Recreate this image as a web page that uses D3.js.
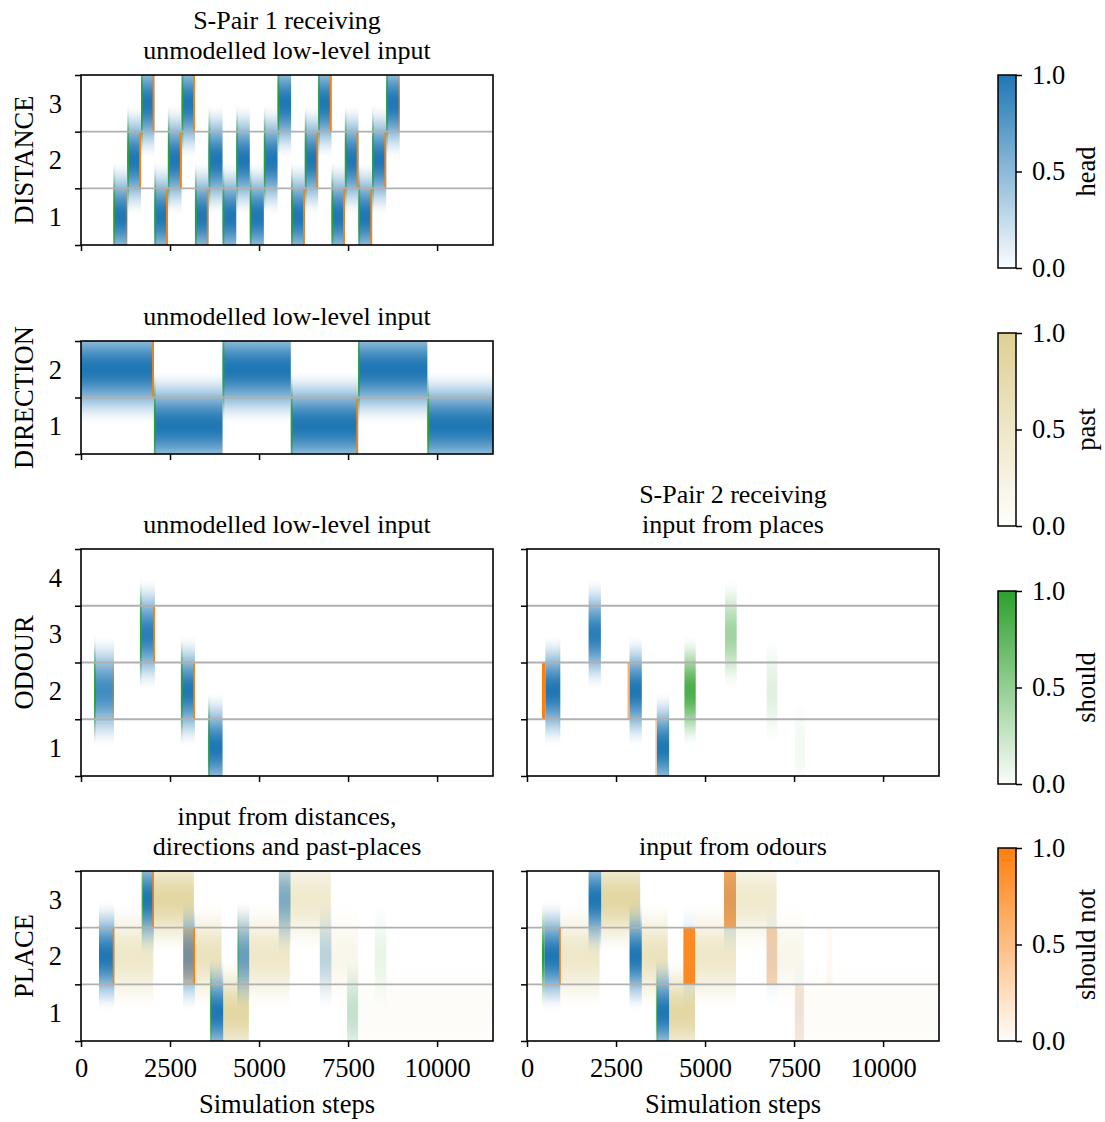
<!DOCTYPE html>
<html><head><meta charset="utf-8">
<script src="https://cdn.jsdelivr.net/npm/d3@7"></script>
<style>
html,body{margin:0;padding:0;background:#fff;}
text{font-family:"Liberation Serif","DejaVu Serif",serif;fill:#000;}
</style></head>
<body>
<script>
// ---------------- DATA ----------------
const xMax = 11570;
const xTicks = [0, 2500, 5000, 7500, 10000];
const cbTicks = [0, 0.5, 1];
const layerNames = ["head", "past", "should", "should not"];

// DISTANCE (S-Pair 1): bar edges (steps), category of each bar, should / should-not strength
const distanceEdges = [910,1300,1685,2060,2440,2825,3200,3580,3975,4360,4740,5135,5520,5900,6285,6660,7035,7410,7790,8175,8570,8950];
const distanceCats = [1,2,3,1,2,3,1,2,1,2,1,2,3,1,2,3,1,2,1,2,3];
const distanceShould = [1,1,1,1,1,1,1,1,1,1,1,1,1,1,1,1,1,1,1,1,1];
const distanceShouldNot = [0.3,1,1,1,1,1,0.7,0,0,0,0,0,0,1,1,1,1,1,1,1,0.3];

// DIRECTION
const directionEdges = [0,2048,3975,5892,7782,9727,11570];
const directionCats = [2,1,2,1,2,1];
const directionShould = [0,1,1,1,1,1];
const directionShouldNot = [1,0,0,1,0,0];

// ODOUR, left (unmodelled input): [start, end, category, value]
const odourLeftHead = [[365,926,2,0.85],[1655,2076,3,0.95],[2806,3199,2,1],[3573,3975,1,1]];
const odourLeftShould = [[365,415,2,1],[1655,1705,3,1],[2806,2856,2,1],[3573,3623,1,1]];
const odourLeftShouldNot = [[880,926,2,0.25],[2030,2076,3,1],[3153,3199,2,1]];

// ODOUR, right (S-Pair 2, input from places)
const odourRightHead = [[514,935,2,1],[1729,2075,3,0.95],[2879,3224,2,1],[3645,3991,1,1]];
const odourRightShould = [[4421,4738,2,0.85],[5561,5888,3,0.45],[6729,7028,2,0.15],[7523,7804,1,0.06],[890,935,2,0.2],[3950,3991,1,0.3]];
const odourRightShouldNot = [[421,514,2,1],[2822,2879,2,0.6],[3598,3645,1,0.35]];

// PLACE, left (input from distances, directions and past-places)
const placeLeftPast = [[935,2030,2,0.5],[2048,3170,3,0.85],[3199,3947,2,0.6],[3994,4714,1,0.85],[4396,5864,2,0.5],[5556,7015,3,0.45],[6706,7782,2,0.18],[7782,11570,1,0.07]];
const placeLeftHead = [[505,935,2,1],[1730,2048,3,1],[2871,3199,2,0.8],[3638,3994,1,1],[4396,4723,2,0.65],[5556,5883,3,0.55],[6706,7033,2,0.28],[7473,7782,1,0.1]];
const placeLeftShould = [[1700,1745,3,0.8],[3620,3665,1,0.8],[4396,4440,2,0.4],[7473,7782,1,0.2],[8250,8577,2,0.1]];
const placeLeftShouldNot = [[890,935,2,1],[2003,2048,3,1],[2871,3199,2,0.25],[3160,3205,2,1]];

// PLACE, right (input from odours)
const placeRightPast = [[935,2037,2,0.5],[2084,3178,3,0.85],[3224,3953,2,0.6],[3991,4720,1,0.85],[4720,5869,2,0.5],[5533,7010,3,0.45],[7028,7776,2,0.18],[7776,11570,1,0.07]];
const placeRightHead = [[486,935,2,1],[1729,2084,3,1],[2879,3224,2,1],[3645,3991,1,1],[4393,4720,2,0.2],[5533,5869,3,0.3],[6729,7028,2,0.12],[7523,7776,1,0.08]];
const placeRightShould = [[421,486,2,1],[3620,3665,1,0.7]];
const placeRightShouldNot = [[900,950,2,0.85],[4393,4720,2,0.9],[5533,5869,3,0.6],[6729,7028,2,0.3],[7523,7776,1,0.15],[8420,8577,2,0.05]];

// ---------------- BUILD TABLES ----------------
const STRIP = 50;
function barsFromEdges(edges, cats, v){ return cats.map((c,i)=>[edges[i],edges[i+1],c,v]); }
function startStrips(edges, cats, vals){ return cats.map((c,i)=>[edges[i],edges[i]+STRIP,c,vals[i]]).filter(d=>d[3]>0); }
function endStrips(edges, cats, vals){ return cats.map((c,i)=>[edges[i+1]-STRIP,edges[i+1],c,vals[i]]).filter(d=>d[3]>0); }

const colors = {head:"#1f77b4", past:"#ded093", should:"#2ca02c", "should not":"#ff7f0e"};

const W = 1105, H = 1122;
const svg = d3.select("body").append("svg").attr("width",W).attr("height",H).style("display","block");
svg.append("rect").attr("width",W).attr("height",H).attr("fill","#fff");
const defs = svg.append("defs");

function profile(d){ d=Math.min(1,Math.abs(d)); return 1-(3*d*d-2*d*d*d); }
layerNames.forEach(name=>{
  const g = defs.append("linearGradient").attr("id","bump-"+name.replace(" ","_"))
    .attr("x1",0).attr("y1",0).attr("x2",0).attr("y2",1);
  d3.range(0,41).forEach(i=>{
    const o=i/40;
    g.append("stop").attr("offset",o).attr("stop-color",colors[name]).attr("stop-opacity",profile(2*o-1));
  });
  const cg = defs.append("linearGradient").attr("id","cb-"+name.replace(" ","_"))
    .attr("x1",0).attr("y1",1).attr("x2",0).attr("y2",0);
  cg.append("stop").attr("offset",0).attr("stop-color",colors[name]).attr("stop-opacity",0.02);
  cg.append("stop").attr("offset",1).attr("stop-color",colors[name]).attr("stop-opacity",1);
});

const FS = 26.5;
const TFS = 26;
const TLINE = 30;
const panels = [
  {x0:81,x1:493,y0:75,y1:245,n:3,title:["S-Pair 1 receiving","unmodelled low-level input"],ylabel:"DISTANCE",yLab:true,xLab:false,
   layers:{past:[],head:barsFromEdges(distanceEdges,distanceCats,1),should:startStrips(distanceEdges,distanceCats,distanceShould),"should not":endStrips(distanceEdges,distanceCats,distanceShouldNot)}},
  {x0:81,x1:493,y0:341,y1:454,n:2,title:["unmodelled low-level input"],ylabel:"DIRECTION",yLab:true,xLab:false,
   layers:{past:[],head:barsFromEdges(directionEdges,directionCats,1),should:startStrips(directionEdges,directionCats,directionShould),"should not":endStrips(directionEdges,directionCats,directionShouldNot)}},
  {x0:81,x1:493,y0:549,y1:776,n:4,title:["unmodelled low-level input"],ylabel:"ODOUR",yLab:true,xLab:false,
   layers:{past:[],head:odourLeftHead,should:odourLeftShould,"should not":odourLeftShouldNot}},
  {x0:527,x1:939,y0:549,y1:776,n:4,title:["S-Pair 2 receiving","input from places"],ylabel:null,yLab:false,xLab:false,
   layers:{past:[],head:odourRightHead,should:odourRightShould,"should not":odourRightShouldNot}},
  {x0:81,x1:493,y0:871,y1:1041,n:3,title:["input from distances,","directions and past-places"],ylabel:"PLACE",yLab:true,xLab:true,
   layers:{past:placeLeftPast,head:placeLeftHead,should:placeLeftShould,"should not":placeLeftShouldNot}},
  {x0:527,x1:939,y0:871,y1:1041,n:3,title:["input from odours"],ylabel:null,yLab:false,xLab:true,
   layers:{past:placeRightPast,head:placeRightHead,should:placeRightShould,"should not":placeRightShouldNot}},
];

const drawOrder = ["past","head","should","should not"];

panels.forEach((p,pi)=>{
  const xs = d3.scaleLinear().domain([0,xMax]).range([p.x0,p.x1]);
  const ys = d3.scaleLinear().domain([0.5,p.n+0.5]).range([p.y1,p.y0]);
  const clipId = "clip"+pi;
  defs.append("clipPath").attr("id",clipId).append("rect")
    .attr("x",p.x0).attr("y",p.y0).attr("width",p.x1-p.x0).attr("height",p.y1-p.y0);
  const g = svg.append("g").attr("clip-path",`url(#${clipId})`);
  drawOrder.forEach(name=>{
    const rowOnly = name==="should not";
    g.append("g").selectAll("rect").data(p.layers[name]).join("rect")
      .attr("x",d=>xs(d[0]))
      .attr("width",d=>Math.max(0.5,xs(d[1])-xs(d[0])))
      .attr("y",d=>rowOnly?ys(d[2]+0.5):ys(d[2]+1))
      .attr("height",d=>rowOnly?ys(d[2]-0.5)-ys(d[2]+0.5):ys(d[2]-1)-ys(d[2]+1))
      .attr("fill",rowOnly?colors[name]:`url(#bump-${name.replace(" ","_")})`)
      .attr("fill-opacity",d=>d[3]);
  });
  const bounds = d3.range(1,p.n).map(i=>i+0.5);
  g.append("g").selectAll("line").data(bounds).join("line")
    .attr("x1",p.x0).attr("x2",p.x1).attr("y1",d=>ys(d)).attr("y2",d=>ys(d))
    .attr("stroke","#b0b0b0").attr("stroke-width",1.8);
  svg.append("rect").attr("x",p.x0).attr("y",p.y0).attr("width",p.x1-p.x0).attr("height",p.y1-p.y0)
    .attr("fill","none").attr("stroke","#000").attr("stroke-width",1.6);
  const xa = svg.append("g").attr("transform",`translate(0,${p.y1})`)
    .call(d3.axisBottom(xs).tickValues(xTicks).tickSize(6).tickSizeOuter(0).tickPadding(10)
      .tickFormat(p.xLab?d3.format("d"):()=>""));
  xa.select(".domain").remove();
  xa.selectAll("line").attr("stroke","#000").attr("stroke-width",1.5);
  xa.selectAll("text").attr("font-size",FS).attr("font-family","Liberation Serif").attr("dy","0.75em");
  const ya = svg.append("g").attr("transform",`translate(${p.x0},0)`)
    .call(d3.axisLeft(ys).tickValues(d3.range(0,p.n+1).map(i=>i+0.5)).tickSize(6).tickSizeOuter(0).tickFormat(()=>""));
  ya.select(".domain").remove();
  ya.selectAll("line").attr("stroke","#000").attr("stroke-width",1.5);
  if(p.yLab){
    svg.append("g").selectAll("text").data(d3.range(1,p.n+1)).join("text")
      .attr("x",p.x0-19).attr("y",d=>ys(d)).attr("dy","0.35em")
      .attr("text-anchor","end").attr("font-size",FS).text(d=>d);
  }
  if(p.ylabel){
    svg.append("text").attr("transform",`translate(33,${(p.y0+p.y1)/2}) rotate(-90)`)
      .attr("text-anchor","middle").attr("font-size",FS).text(p.ylabel);
  }
  if(p.xLab){
    svg.append("text").attr("x",(p.x0+p.x1)/2).attr("y",1113)
      .attr("text-anchor","middle").attr("font-size",FS).text("Simulation steps");
  }
  const nT = p.title.length;
  const cx = (p.x0+p.x1)/2;
  p.title.forEach((t,i)=>{
    svg.append("text").attr("x",cx).attr("y",p.y0-16-(nT-1-i)*TLINE)
      .attr("text-anchor","middle").attr("font-size",TFS).text(t);
  });
});

const cbTops = [75,333,591,848];
layerNames.forEach((name,i)=>{
  const x0=998, w=18, y0=cbTops[i], h=193;
  const cs = d3.scaleLinear().domain([0,1]).range([y0+h,y0]);
  svg.append("rect").attr("x",x0).attr("y",y0).attr("width",w).attr("height",h).attr("fill","#fff");
  svg.append("rect").attr("x",x0).attr("y",y0).attr("width",w).attr("height",h)
    .attr("fill",`url(#cb-${name.replace(" ","_")})`);
  svg.append("rect").attr("x",x0).attr("y",y0).attr("width",w).attr("height",h)
    .attr("fill","none").attr("stroke","#000").attr("stroke-width",1.5);
  const ca = svg.append("g").attr("transform",`translate(${x0+w},0)`)
    .call(d3.axisRight(cs).tickValues(cbTicks).tickSize(6).tickPadding(10).tickFormat(d3.format(".1f")));
  ca.select(".domain").remove();
  ca.selectAll("line").attr("stroke","#000").attr("stroke-width",1.5);
  ca.selectAll("text").attr("font-size",FS).attr("font-family","Liberation Serif");
  svg.append("text").attr("transform",`translate(1095,${y0+h/2}) rotate(-90)`)
    .attr("text-anchor","middle").attr("font-size",FS).text(name);
});
</script>
</body></html>
